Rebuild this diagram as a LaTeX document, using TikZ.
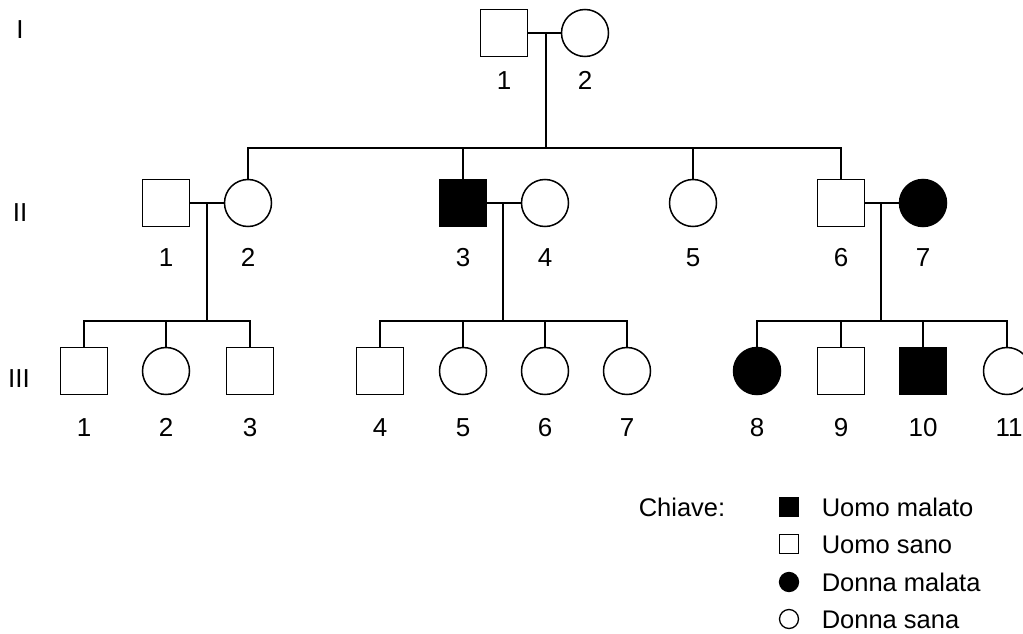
\documentclass[tikz,border=0pt]{standalone}
\usepackage{fontspec}
\setmainfont{Liberation Sans}
\begin{document}
\begin{tikzpicture}[x=1pt,y=-1pt,line width=1.5pt,
  male/.style={draw,rectangle,minimum size=47pt,inner sep=0pt},
  female/.style={draw,circle,minimum size=47pt,inner sep=0pt},
  affected/.style={fill=black},
  num/.style={font=\fontsize{26}{30}\selectfont,inner sep=0pt,anchor=base},
  keysym/.style={draw,inner sep=0pt,minimum size=19pt,line width=1.3pt},
  keytxt/.style={font=\fontsize{25.5}{30}\selectfont,inner sep=0pt,anchor=base west}]
\useasboundingbox (0,0) rectangle (1023,634);
\clip (0,0) rectangle (1023,634);

% generation numbers (placed by baseline)
\node[num] (gI)   at (20,39)  {I};
\node[num] (gII)  at (20,221) {II};
\node[num] (gIII) at (19,387) {III};

% generation I
\node[male]   (I1) at (504,33) {};
\node[female] (I2) at (585,33) {};
\node[num] (lI1) at (504,89) {1};
\node[num] (lI2) at (585,89) {2};

% generation II
\node[male]            (II1) at (166,203) {};
\node[female]          (II2) at (248,203) {};
\node[male,affected]   (II3) at (463,203) {};
\node[female]          (II4) at (545,203) {};
\node[female]          (II5) at (693,203) {};
\node[male]            (II6) at (841,203) {};
\node[female,affected] (II7) at (923,203) {};
\foreach \i/\x in {1/166,2/248,3/463,4/545,5/693,6/841,7/923}
  \node[num] (lII\i) at (\x,266) {\i};

% generation III
\node[male]            (III1)  at (84,371)   {};
\node[female]          (III2)  at (166,371)  {};
\node[male]            (III3)  at (250,371)  {};
\node[male]            (III4)  at (380,371)  {};
\node[female]          (III5)  at (463,371)  {};
\node[female]          (III6)  at (545,371)  {};
\node[female]          (III7)  at (627,371)  {};
\node[female,affected] (III8)  at (757,371)  {};
\node[male]            (III9)  at (841,371)  {};
\node[male,affected]   (III10) at (923,371)  {};
\node[female]          (III11) at (1007,371) {};
\foreach \i/\x in {1/84,2/166,3/250,4/380,5/463,6/545,7/627,8/757,9/841,10/923,11/1009}
  \node[num] (lIII\i) at (\x,436) {\i};

% mating lines and lines of descent
\coordinate (mI)   at (546,33);
\coordinate (sII)  at (546,148);
\draw (I1) -- (I2);
\draw (mI) -- (sII);
\draw (II2.north) |- (sII) -| (II6.north);
\draw (II3.north) -- (II3.north |- sII);
\draw (II5.north) -- (II5.north |- sII);

\coordinate (mA) at (207,203);
\coordinate (sA) at (207,321);
\draw (II1) -- (II2);
\draw (mA) -- (sA);
\draw (III1.north) |- (sA) -| (III3.north);
\draw (III2.north) -- (III2.north |- sA);

\coordinate (mB) at (503,203);
\coordinate (sB) at (503,321);
\draw (II3) -- (II4);
\draw (mB) -- (sB);
\draw (III4.north) |- (sB) -| (III7.north);
\draw (III5.north) -- (III5.north |- sB);
\draw (III6.north) -- (III6.north |- sB);

\coordinate (mC) at (881,203);
\coordinate (sC) at (881,321);
\draw (II6) -- (II7);
\draw (mC) -- (sC);
\draw (III8.north) |- (sC) -| (III11.north);
\draw (III9.north) -- (III9.north |- sC);
\draw (III10.north) -- (III10.north |- sC);

% key
\node[keytxt] (key) at (638,516) {Chiave:};
\node[keysym,rectangle,fill=black] (k1) at (789,507) {};
\node[keysym,rectangle]            (k2) at (789,544) {};
\node[keysym,circle,fill=black]    (k3) at (789,582) {};
\node[keysym,circle]               (k4) at (789,619) {};
\node[keytxt] (t1) at (821,516) {Uomo malato};
\node[keytxt] (t2) at (821,553) {Uomo sano};
\node[keytxt] (t3) at (821,591) {Donna malata};
\node[keytxt] (t4) at (821,628) {Donna sana};
\end{tikzpicture}
\end{document}
